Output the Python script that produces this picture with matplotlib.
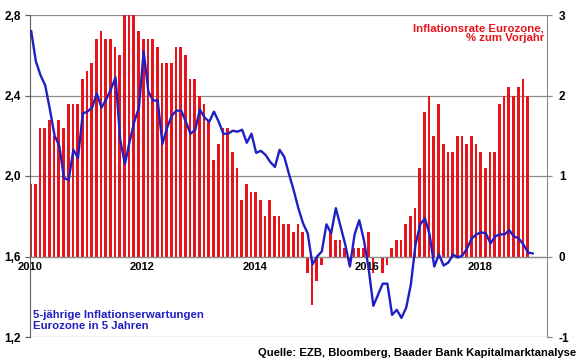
import numpy as np
import matplotlib
matplotlib.use("Agg")
import matplotlib.pyplot as plt

plt.rcParams['font.family'] = ['Liberation Sans', 'DejaVu Sans']
plt.rcParams['font.weight'] = 'bold'

# monthly data, Jan 2010 .. Nov/Dec 2018
start_year = 2010

# HICP euro area, % yoy (right axis)
inflation = [
    0.9, 0.9, 1.6, 1.6, 1.7, 1.5, 1.7, 1.6, 1.9, 1.9, 1.9, 2.2,   # 2010
    2.3, 2.4, 2.7, 2.8, 2.7, 2.7, 2.6, 2.5, 3.0, 3.0, 3.0, 2.8,   # 2011
    2.7, 2.7, 2.7, 2.6, 2.4, 2.4, 2.4, 2.6, 2.6, 2.5, 2.2, 2.2,   # 2012
    2.0, 1.9, 1.7, 1.2, 1.4, 1.6, 1.6, 1.3, 1.1, 0.7, 0.9, 0.8,   # 2013
    0.8, 0.7, 0.5, 0.7, 0.5, 0.5, 0.4, 0.4, 0.3, 0.4, 0.3, -0.2,  # 2014
    -0.6, -0.3, -0.1, 0.0, 0.3, 0.2, 0.2, 0.1, -0.1, 0.1, 0.1, 0.1,  # 2015
    0.3, -0.2, 0.0, -0.2, -0.1, 0.1, 0.2, 0.2, 0.4, 0.5, 0.6, 1.1,  # 2016
    1.8, 2.0, 1.5, 1.9, 1.4, 1.3, 1.3, 1.5, 1.5, 1.4, 1.5, 1.4,   # 2017
    1.3, 1.1, 1.3, 1.3, 1.9, 2.0, 2.1, 2.0, 2.1, 2.2, 2.0,        # 2018
]

# 5y5y inflation expectations (left axis)
expectations = [
    2.72, 2.57, 2.50, 2.45, 2.33, 2.20, 2.15, 1.99, 1.98, 2.13, 2.09, 2.31,
    2.32, 2.34, 2.41, 2.34, 2.38, 2.43, 2.49, 2.18, 2.06, 2.17, 2.27, 2.34,
    2.62, 2.42, 2.375, 2.375, 2.16, 2.24, 2.30, 2.325, 2.325, 2.27, 2.21, 2.23,
    2.33, 2.29, 2.27, 2.32, 2.27, 2.21, 2.21, 2.225, 2.22, 2.23, 2.165, 2.21,
    2.115, 2.125, 2.105, 2.07, 2.045, 2.13, 2.095, 2.01, 1.93, 1.84, 1.765, 1.715,
    1.56, 1.60, 1.625, 1.76, 1.715, 1.84, 1.75, 1.66, 1.55, 1.71, 1.78, 1.68,
    1.54, 1.355, 1.41, 1.465, 1.465, 1.31, 1.335, 1.295, 1.345, 1.46, 1.66, 1.76,
    1.79, 1.71, 1.55, 1.61, 1.555, 1.57, 1.61, 1.595, 1.605, 1.64, 1.69, 1.71,
    1.72, 1.715, 1.665, 1.70, 1.71, 1.71, 1.73, 1.70, 1.69, 1.66, 1.62, 1.615,
]

left_ticks = [1.2, 1.6, 2.0, 2.4, 2.8]
left_labels = ['1,2', '1,6', '2,0', '2,4', '2,8']
right_ticks = [-1, 0, 1, 2, 3]
year_ticks = [2010, 2012, 2014, 2016, 2018]

red = '#e8141c'
blue = '#1f1fc4'
grid_gray = '#8c8c8c'

bar_x = start_year + (np.arange(len(inflation)) + 0.15) / 12
line_x = start_year + (np.arange(len(expectations)) + 0.25) / 12

fig = plt.figure(figsize=(5.8, 3.59), dpi=100)
ax = fig.add_axes([30 / 580, 22 / 359, 517.3 / 580, 322 / 359])
ax2 = ax.twinx()
ax.set_zorder(ax2.get_zorder() + 1)
ax.patch.set_visible(False)

# bars on right axis
ax2.bar(bar_x, inflation, width=0.58 / 12, color=red, zorder=2)
ax2.set_ylim(-1, 3)
ax2.set_yticks(right_ticks)
ax2.set_yticklabels([str(t) for t in right_ticks])
ax2.grid(axis='y', color=grid_gray, linewidth=0.9)
ax2.set_axisbelow(True)

# line on left axis
ax.plot(line_x, expectations, color=blue, linewidth=1.7, zorder=3)
ax.set_ylim(1.2, 2.8)
ax.set_yticks(left_ticks)
ax.set_yticklabels(left_labels)
ax.set_xlim(2010, 2019.197)
ax.set_xticks(year_ticks)
ax.set_xticklabels([str(y) for y in year_ticks])
ax.spines['bottom'].set_position(('data', 1.6))
ax.spines['bottom'].set_color(grid_gray)
ax.spines['bottom'].set_linewidth(0.9)
ax.spines['top'].set_visible(False)
ax.spines['right'].set_visible(False)
ax.spines['left'].set_color('#606060')
ax.tick_params(axis='x', length=0, pad=4, labelsize=8)
ax.tick_params(axis='y', length=3.6, width=0.9, color='#606060', pad=3, labelsize=8.5)

for side in ['top', 'left', 'bottom']:
    ax2.spines[side].set_visible(False)
ax2.spines['right'].set_color(grid_gray)
ax2.tick_params(axis='y', length=3.8, width=0.9, color=grid_gray, pad=4.5, labelsize=8.5)

ax.text(0.994, 0.975, 'Inflationsrate Eurozone,\n% zum Vorjahr', transform=ax.transAxes,
        ha='right', va='top', color=red, fontsize=8.2, fontweight='bold', linespacing=1.05)
ax.text(0.005, 0.02, '5-jährige Inflationserwartungen\nEurozone in 5 Jahren', transform=ax.transAxes,
        ha='left', va='bottom', color=blue, fontsize=8.2, fontweight='bold', linespacing=1.05)
fig.text(0.993, 0.004, 'Quelle: EZB, Bloomberg, Baader Bank Kapitalmarktanalyse',
         ha='right', va='bottom', fontsize=8.1, fontweight='bold')

fig.savefig('out.png', dpi=100)
